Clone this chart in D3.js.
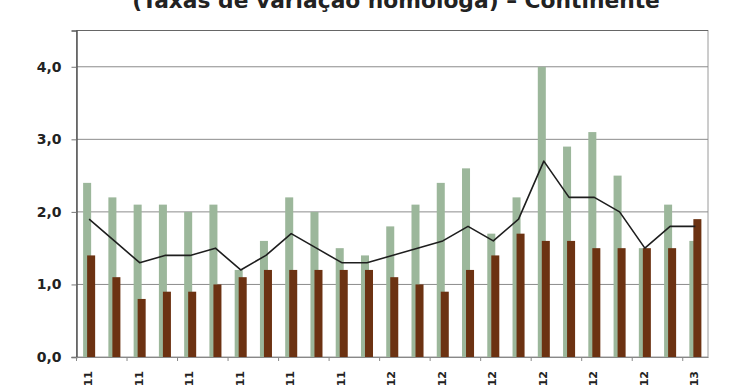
<!DOCTYPE html>
<html>
<head>
<meta charset="utf-8">
<script src="https://cdn.jsdelivr.net/npm/d3@7"></script>
<style>
  html, body { margin: 0; padding: 0; background: #fff; }
  svg { display: block; }
</style>
</head>
<body>
<svg id="chart" width="740" height="389"></svg>
<script>
// ---- Data ----
const title = "(Taxas de variação homóloga) – Continente";
const categories = ["jan-11","fev-11","mar-11","abr-11","mai-11","jun-11","jul-11","ago-11","set-11","out-11","nov-11","dez-11",
                    "jan-12","fev-12","mar-12","abr-12","mai-12","jun-12","jul-12","ago-12","set-12","out-12","nov-12","dez-12",
                    "jan-13"];
const tickLabels = ["11","11","11","11","11","11","12","12","12","12","12","12","13"];
const greenSeries = [2.4,2.2,2.1,2.1,2.0,2.1,1.2,1.6,2.2,2.0,1.5,1.4,1.8,2.1,2.4,2.6,1.7,2.2,4.0,2.9,3.1,2.5,1.5,2.1,1.6];
const brownSeries = [1.4,1.1,0.8,0.9,0.9,1.0,1.1,1.2,1.2,1.2,1.2,1.2,1.1,1.0,0.9,1.2,1.4,1.7,1.6,1.6,1.5,1.5,1.5,1.5,1.9];
const lineSeries  = [1.9,1.6,1.3,1.4,1.4,1.5,1.2,1.4,1.7,1.5,1.3,1.3,1.4,1.5,1.6,1.8,1.6,1.9,2.7,2.2,2.2,2.0,1.5,1.8,1.8];
const yTicks = [0, 1, 2, 3, 4];
const yMax = 4.5;

// ---- Layout ----
const plotLeft = 76.5, plotRight = 708, plotTop = 30.5, plotBottom = 357;
const svg = d3.select("#chart");
const font = "'DejaVu Sans', Verdana, sans-serif";

const x = d3.scaleBand().domain(categories).range([plotLeft, plotRight]).padding(0);
const y = d3.scaleLinear().domain([0, yMax]).range([plotBottom, plotTop]);
const bw = x.bandwidth();
const barW = bw * 8 / 25.2;
const barOverlap = barW * 0.25;

// Title
const t = svg.append("text")
  .attr("x", 396).attr("y", 7.5)
  .attr("text-anchor", "middle")
  .attr("font-family", font).attr("font-weight", "bold")
  .attr("font-size", 17).attr("fill", "#222")
  .text(title);
const tw = t.node().getComputedTextLength();
t.attr("font-size", 17 * 528 / tw);

// Plot box
svg.append("rect")
  .attr("x", plotLeft).attr("y", plotTop)
  .attr("width", plotRight - plotLeft).attr("height", plotBottom - plotTop)
  .attr("fill", "none").attr("stroke", "#9a9a9a").attr("stroke-width", 1);
svg.append("line")
  .attr("x1", plotLeft).attr("x2", plotRight).attr("y1", plotTop).attr("y2", plotTop)
  .attr("stroke", "#666").attr("stroke-width", 1);

// Gridlines
svg.append("g").selectAll("line").data(yTicks.filter(d => d > 0)).join("line")
  .attr("x1", plotLeft).attr("x2", plotRight)
  .attr("y1", d => y(d)).attr("y2", d => y(d))
  .attr("stroke", "#8c8c8c").attr("stroke-width", 1);

// Bars
svg.append("g").selectAll("rect").data(greenSeries).join("rect")
  .attr("x", (d, i) => x(categories[i]) + bw / 2 - barW + barOverlap)
  .attr("width", barW)
  .attr("y", d => y(d))
  .attr("height", d => y(0) - y(d))
  .attr("fill", "#9cb79b");
svg.append("g").selectAll("rect").data(brownSeries).join("rect")
  .attr("x", (d, i) => x(categories[i]) + bw / 2 - barOverlap)
  .attr("width", barW)
  .attr("y", d => y(d))
  .attr("height", d => y(0) - y(d))
  .attr("fill", "#6c3212");

// Line
const lineGen = d3.line()
  .x((d, i) => x(categories[i]) + bw / 2)
  .y(d => y(d));
svg.append("path").datum(lineSeries)
  .attr("d", lineGen)
  .attr("fill", "none").attr("stroke", "#1e1e1e").attr("stroke-width", 1.6)
  .attr("stroke-linejoin", "round");

// Y axis
const yAxis = d3.axisLeft(y).tickValues(yTicks).tickSize(5).tickPadding(10)
  .tickFormat(d => d3.format(".1f")(d).replace(".", ","));
const gy = svg.append("g").attr("transform", `translate(${plotLeft},0)`).call(yAxis);
gy.select(".domain").attr("stroke", "#555").attr("stroke-width", 1.5);
gy.selectAll(".tick line").attr("stroke", "#777");
gy.selectAll(".tick text")
  .attr("font-family", font).attr("font-weight", "bold")
  .attr("font-size", 14).attr("fill", "#222");

// X axis
const xAxis = d3.axisBottom(x).tickSize(0).tickFormat("");
const gx = svg.append("g").attr("transform", `translate(0,${plotBottom})`).call(xAxis);
gx.select(".domain").attr("stroke", "#888").attr("stroke-width", 1);
gx.selectAll(".tick").remove();
const tickCats = categories.filter((c, i) => i % 2 === 0);
gx.selectAll("line.tk").data(tickCats).join("line")
  .attr("class", "tk")
  .attr("x1", d => x(d)).attr("x2", d => x(d))
  .attr("y1", 0).attr("y2", 4)
  .attr("stroke", "#888");
gx.selectAll("text.lbl").data(tickCats).join("text")
  .attr("class", "lbl")
  .attr("transform", d => `translate(${x(d) + bw / 2 + 3},14) rotate(-90)`)
  .attr("text-anchor", "end")
  .attr("font-family", font).attr("font-weight", "bold")
  .attr("font-size", 11).attr("fill", "#222")
  .text((d, i) => tickLabels[i]);
</script>
</body>
</html>
